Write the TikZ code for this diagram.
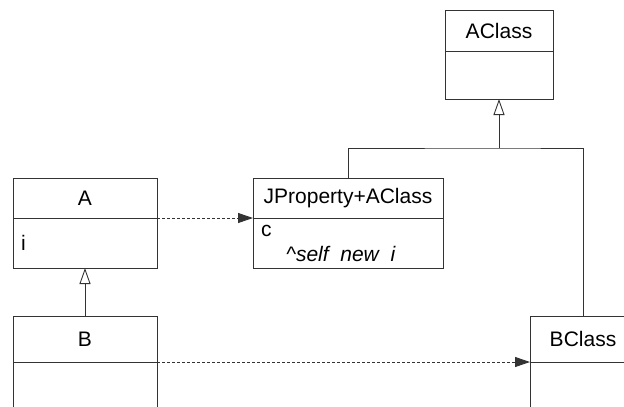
\documentclass[tikz,border=0pt]{standalone}
\usepackage{fontspec}
\setmainfont{Liberation Sans}
\usepackage{tikz}
\usetikzlibrary{arrows.meta,positioning,calc}
\tikzstyle{classname}=[draw=black!80,line width=0.9pt,outer sep=0pt,inner sep=0pt,font=\fontsize{21}{24}\selectfont]
\tikzstyle{classbody}=[draw=black!80,line width=0.9pt,outer sep=0pt,inner sep=0pt]
\tikzstyle{member}=[inner sep=0pt,anchor=base west,font=\fontsize{21}{24}\selectfont]
\tikzstyle{link}=[draw=black!80,line width=0.9pt]
\tikzstyle{inherit}=[link,-{Triangle[open,length=16pt,width=11pt]}]
\tikzstyle{depend}=[link,dash pattern=on 3pt off 2pt,-{Triangle[length=15pt,width=10pt]}]
\begin{document}
\begin{tikzpicture}[x=1pt,y=1pt]
    \useasboundingbox (0,0) rectangle (624,-407);
    \clip (0,0) rectangle (624,-407);
    % classes
    \node[classname,minimum width=108pt,minimum height=41pt] (AC) at (499,-30.5) {AClass};
    \node[classbody,minimum width=108pt,minimum height=48pt,below=0pt of AC] (ACbody) {};
    \node[classname,minimum width=144pt,minimum height=40pt] (A) at (85,-198) {A};
    \node[classbody,minimum width=144pt,minimum height=50pt,below=0pt of A] (Abody) {};
    \node[classname,minimum width=190pt,minimum height=40pt] (JP) at (348,-198) {JProperty+AClass};
    \node[classbody,minimum width=190pt,minimum height=50pt,below=0pt of JP] (JPbody) {};
    \node[classname,minimum width=144pt,minimum height=46pt] (B) at (85,-339) {B};
    \node[classbody,minimum width=144pt,minimum height=56pt,below=0pt of B] (Bbody) {};
    \node[classname,minimum width=106pt,minimum height=46pt] (BC) at (583,-339) {BClass};
    \node[classbody,minimum width=106pt,minimum height=56pt,below=0pt of BC] (BCbody) {};
    % members
    \node[member] (Ai) at ($(Abody.north west)+(8,-32)$) {i};
    \node[member] (JPc) at ($(JPbody.north west)+(8,-18.7)$) {c};
    \node[member] (JPnew) at ($(JPbody.north west)+(33,-43.7)$) {\textit{\textasciicircum self\ \ new\ \ i}};
    % connectors
    \draw[depend] (A.south east) -- (JP.south west);
    \draw[depend] (B.south east) -- (BC.south west);
    \draw[inherit] (B.north) -- (Abody.south);
    \coordinate (join) at ($(ACbody.south)+(0,-49)$);
    \draw[link] (JP.north) |- (join) -| (BC.north);
    \draw[inherit] (join) -- (ACbody.south);
\end{tikzpicture}
\end{document}
